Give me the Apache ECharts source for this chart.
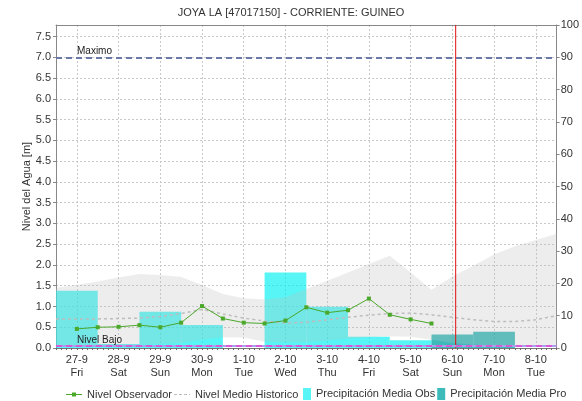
<!DOCTYPE html>
<html>
<head>
<meta charset="utf-8">
<script src="https://cdn.jsdelivr.net/npm/echarts@6/dist/echarts.min.js"></script>
<style>
  html, body { margin: 0; padding: 0; background: #fff; }
  #chart { width: 582px; height: 401px; }
</style>
</head>
<body>
<div id="chart"></div>
<script>
// Days shown on the time axis
const days = ['27-9', '28-9', '29-9', '30-9', '1-10', '2-10', '3-10', '4-10', '5-10', '6-10', '7-10', '8-10'];
const weekdays = ['Fri', 'Sat', 'Sun', 'Mon', 'Tue', 'Wed', 'Thu', 'Fri', 'Sat', 'Sun', 'Mon', 'Tue'];

// Daily precipitation [mm] (right axis): observed and forecast
const precipObs = [17.7, 1.2, 11.2, 7.1, 0, 23.4, 12.8, 3.5, 2.4, null, null, null];
const precipPro = [null, null, null, null, null, null, null, null, null, 4.2, 5.0, null];

// Observed water level [m], readings every 12 h (time in days from 27-9 00:00)
const levelTimes = [0.5, 1.0, 1.5, 2.0, 2.5, 3.0, 3.5, 4.0, 4.5, 5.0, 5.5, 6.0, 6.5, 7.0, 7.5, 8.0, 8.5, 9.0];
const levelObs   = [0.46, 0.50, 0.51, 0.55, 0.50, 0.61, 1.01, 0.71, 0.61, 0.59, 0.66, 0.98, 0.85, 0.91, 1.19, 0.80, 0.69, 0.59];

// Historical statistics [m] every 12 h: mean, lower and upper envelope
const histTimes = [0, 0.5, 1, 1.5, 2, 2.5, 3, 3.5, 4, 4.5, 5, 5.5, 6, 6.5, 7, 7.5, 8, 8.5, 9, 9.5, 10, 10.5, 11, 11.5, 12];
const histMean  = [0.70, 0.70, 0.70, 0.71, 0.72, 0.76, 0.83, 0.93, 0.82, 0.72, 0.65, 0.60, 0.62, 0.68, 0.74, 0.79, 0.83, 0.84, 0.80, 0.74, 0.68, 0.64, 0.64, 0.68, 0.78];
const histLow   = [0.05, 0.05, 0.05, 0.06, 0.08, 0.10, 0.12, 0.20, 0.26, 0.25, 0.15, 0.14, 0.14, 0.18, 0.22, 0.26, 0.28, 0.27, 0.20, 0.12, 0.08, 0.06, 0.05, 0.05, 0.05];
const histHigh  = [1.45, 1.52, 1.60, 1.70, 1.78, 1.76, 1.71, 1.52, 1.30, 1.20, 1.17, 1.22, 1.42, 1.62, 1.82, 2.02, 2.22, 1.82, 1.40, 1.72, 1.98, 2.25, 2.45, 2.60, 2.75];

// Reference levels [m], level axis top [m] and current time marker [days]
const nivelMaximo = 7.0;
const nivelBajo = 0.05;
const levelAxisMax = 70 / 9;
const nowTime = 9.58;

const FONT = 'Liberation Sans';
const zip = (xs, ys) => xs.map((x, i) => [x, ys[i]]);

// Envelope of historical levels drawn as one polygon through the axes' scales
function renderBand(params, api) {
  const pts = [];
  for (let i = 0; i < histTimes.length; i++) pts.push(api.coord([histTimes[i], histHigh[i]]));
  for (let i = histTimes.length - 1; i >= 0; i--) pts.push(api.coord([histTimes[i], histLow[i]]));
  return {
    type: 'polygon',
    shape: { points: pts },
    style: { fill: 'rgba(190,190,190,0.28)', stroke: null }
  };
}

const chart = echarts.init(document.getElementById('chart'), null, { renderer: 'canvas' });

chart.setOption({
  animation: false,
  backgroundColor: '#ffffff',
  textStyle: { fontFamily: FONT },
  title: {
    text: 'JOYA LA [47017150] - CORRIENTE: GUINEO',
    left: 'center',
    top: 2,
    textStyle: { fontFamily: FONT, fontSize: 11, fontWeight: 'normal', color: '#333' }
  },
  grid: { left: 56, right: 21, top: 25, bottom: 53, containLabel: false },
  legend: [
    {
      data: [
        { name: 'Nivel Observador', icon: 'path://M0,4.5h16v1h-16z M6,3h4v4h-4z' },
        { name: 'Nivel Medio Historico', icon: 'path://M0,4h3v1.2h-3z M5,4h3v1.2h-3z M10,4h3v1.2h-3z M15,4h1v1.2h-1z' }
      ],
      left: 61, top: 384,
      itemWidth: 16, itemHeight: 10, itemGap: 2,
      textStyle: { fontFamily: FONT, fontSize: 11, color: '#333' }
    },
    {
      data: [{ name: 'Precipitación Media Obs', icon: 'rect' }, { name: 'Precipitación Media Pro', icon: 'rect' }],
      left: 298, top: 383,
      itemWidth: 8, itemHeight: 12, itemGap: 2,
      textStyle: { fontFamily: FONT, fontSize: 11, color: '#333' }
    }
  ],
  xAxis: [
    {
      type: 'category',
      data: days,
      boundaryGap: true,
      axisLine: { show: true, onZero: false, lineStyle: { color: '#777', width: 1 } },
      axisTick: { show: false },
      axisLabel: {
        fontFamily: FONT, fontSize: 11, color: '#333', margin: 5, lineHeight: 13,
        formatter: (v, i) => v + '\n' + weekdays[i]
      },
      splitLine: { show: false }
    },
    {
      type: 'value',
      min: 0, max: 12,
      position: 'top',
      axisLine: { show: true, onZero: false, lineStyle: { color: '#888' } },
      axisTick: { show: false },
      axisLabel: { show: false },
      splitLine: { show: false }
    },
    {
      type: 'value',
      min: 0, max: 12, interval: 0.125,
      position: 'bottom',
      axisLine: { show: false, onZero: false },
      axisTick: { show: true, length: 2, lineStyle: { color: '#666' } },
      axisLabel: { show: false },
      splitLine: { show: false }
    },
    {
      // half-day axis: grid lines at midday of every date
      type: 'category',
      data: histTimes.map(String),
      boundaryGap: false,
      position: 'bottom',
      axisLine: { show: false, onZero: false },
      axisTick: { show: false },
      axisLabel: { show: false },
      splitLine: {
        show: true,
        interval: (i) => i % 2 === 1,
        lineStyle: { color: '#c8c8c8', type: [2, 2], width: 1 }
      }
    }
  ],
  yAxis: [
    {
      type: 'value',
      min: 0, max: levelAxisMax, interval: 0.5,
      name: 'Nivel del Agua [m]',
      nameLocation: 'middle',
      nameRotate: 90,
      nameGap: 24,
      nameMoveOverlap: false,
      nameTextStyle: { fontFamily: FONT, fontSize: 11, color: '#333' },
      axisLine: { show: true, onZero: false, lineStyle: { color: '#888' } },
      axisTick: { show: true, length: 3, lineStyle: { color: '#888' } },
      axisLabel: {
        fontFamily: FONT, fontSize: 11, color: '#333', margin: 5,
        showMaxLabel: false,
        formatter: v => v.toFixed(1)
      },
      splitLine: { show: true, lineStyle: { color: '#c8c8c8', type: [2, 2], width: 1 } }
    },
    {
      type: 'value',
      min: 0, max: 100, interval: 10,
      position: 'right',
      axisLine: { show: true, onZero: false, lineStyle: { color: '#888' } },
      axisTick: { show: true, length: 3, lineStyle: { color: '#888' } },
      axisLabel: { fontFamily: FONT, fontSize: 11, color: '#333', margin: 4 },
      splitLine: { show: false }
    }
  ],
  series: [
    {
      name: 'Precipitación Media Obs',
      type: 'bar',
      xAxisIndex: 0, yAxisIndex: 1,
      data: precipObs,
      barCategoryGap: '0%',
      barGap: '-100%',
      itemStyle: { color: 'rgba(0,240,240,0.66)' },
      z: 1
    },
    {
      name: 'Precipitación Media Pro',
      type: 'bar',
      xAxisIndex: 0, yAxisIndex: 1,
      data: precipPro,
      barCategoryGap: '0%',
      barGap: '-100%',
      itemStyle: { color: 'rgba(0,165,165,0.76)' },
      z: 1
    },
    {
      name: 'histBand',
      type: 'custom',
      xAxisIndex: 1, yAxisIndex: 0,
      data: [[histTimes[0], histLow[0]]],
      renderItem: renderBand,
      silent: true,
      z: 2
    },
    {
      name: 'Nivel Medio Historico',
      type: 'line',
      xAxisIndex: 1, yAxisIndex: 0,
      data: zip(histTimes, histMean),
      symbol: 'none',
      itemStyle: { color: '#bdbdbd' },
      lineStyle: { color: '#bdbdbd', width: 1.5, type: [3, 3] },
      z: 3,
      markLine: {
        silent: true,
        symbol: 'none',
        animation: false,
        data: [
          {
            yAxis: nivelMaximo,
            lineStyle: { color: '#6b79a8', width: 2, type: [6, 4] },
            label: {
              show: true, position: 'insideStartTop', distance: [21, 1],
              formatter: 'Maximo', fontFamily: FONT, fontSize: 10, color: '#222'
            }
          },
          {
            yAxis: nivelBajo,
            lineStyle: { color: '#a9a3ec', width: 2, type: 'solid' },
            label: { show: false }
          },
          {
            yAxis: nivelBajo,
            lineStyle: { color: '#d85ad8', width: 2, type: [6, 4] },
            label: {
              show: true, position: 'insideStartTop', distance: [21, 1],
              formatter: 'Nivel Bajo', fontFamily: FONT, fontSize: 10, color: '#222'
            }
          }
        ]
      }
    },
    {
      // current-time marker across the full level range
      name: 'ahora',
      type: 'line',
      xAxisIndex: 1, yAxisIndex: 0,
      data: [[nowTime, 0], [nowTime, levelAxisMax]],
      symbol: 'none',
      silent: true,
      itemStyle: { color: '#e01010' },
      lineStyle: { color: '#e01010', width: 1, type: 'solid' },
      z: 3
    },
    {
      name: 'Nivel Observador',
      type: 'line',
      xAxisIndex: 1, yAxisIndex: 0,
      data: zip(levelTimes, levelObs),
      symbol: 'rect',
      symbolSize: 4,
      showSymbol: true,
      itemStyle: { color: '#4aa82a' },
      lineStyle: { color: '#4aa82a', width: 1 },
      z: 4
    }
  ]
});
</script>
</body>
</html>
